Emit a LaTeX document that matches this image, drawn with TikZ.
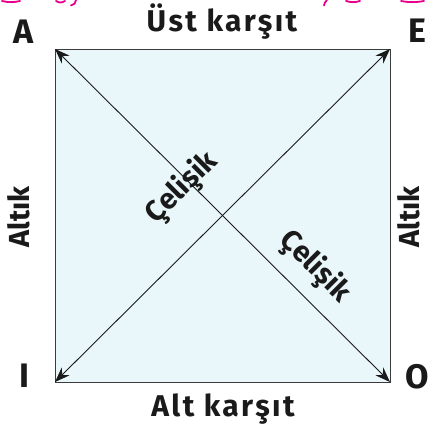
\documentclass[tikz,border=0pt]{standalone}
\usepackage{fontspec}
\setmainfont{Fira Sans}
\usetikzlibrary{arrows.meta}
\definecolor{boxfill}{RGB}{234,247,250}
\definecolor{boxline}{RGB}{60,60,60}
\definecolor{ink}{RGB}{26,26,26}
\definecolor{pinkish}{RGB}{232,0,140}
\begin{document}
\begin{tikzpicture}[x=1pt,y=1pt,
  lbl/.style={text=ink,font=\fontsize{29}{29}\selectfont\bfseries,inner sep=0pt,text height=0.72em,text depth=0pt},
  corner/.style={lbl,font=\fontsize{34}{34}\selectfont\bfseries},
  wide/.style={lbl,font=\fontsize{30}{30}\selectfont\bfseries\addfontfeatures{LetterSpace=8}},
  diag/.style={draw=ink,line width=0.9pt,{Stealth[length=15pt,width=11pt]}-{Stealth[length=15pt,width=11pt]}},
  frag/.style={draw=pinkish,line width=1.8pt,line cap=round}]
\useasboundingbox (0,0) rectangle (428,433);
% square
\coordinate (tl) at (55,384);
\coordinate (tr) at (390,384);
\coordinate (bl) at (55,51);
\coordinate (br) at (390,51);
\path[fill=boxfill,draw=boxline,line width=0.8pt] (tl) -- (tr) -- (br) -- (bl) -- cycle;
\draw[diag] (tl) -- (br);
\draw[diag] (tr) -- (bl);
% corner labels
\node[corner] (A) at (24,393) {A};
\node[corner] (E) at (417,394) {E};
\node[corner] (I) at (24,49) {I};
\node[corner] (O) at (417,48) {O};
% side labels
\node[wide] (top) at (222,405) {Üst karşıt};
\node[wide] (bot) at (223,20) {Alt karşıt};
\node[lbl,rotate=90] (left) at (26,216) {Altık};
\node[lbl,rotate=90] (right) at (416,216) {Altık};
% diagonal labels
\node[lbl,rotate=45] (c1) at (185,242) {Çelişik};
\node[lbl,rotate=-45] (c2) at (312,163) {Çelişik};
% magenta fragments of cut-off text
\draw[frag] (2,432) .. controls (8,430.5) and (14,430.5) .. (20,432);
\draw[frag] (56,432) .. controls (59,430) and (62,430) .. (65,432);
\draw[frag] (76,433) .. controls (76,430) and (74,428) .. (71,427.5);
\draw[frag] (327,433) .. controls (325,431) and (324,429) .. (324,427.5);
\draw[frag] (346,432) .. controls (351,430.5) and (355,430.5) .. (360,432);
\draw[frag] (401,432) .. controls (408,430.5) and (416,430.5) .. (424,432);
\end{tikzpicture}
\end{document}
